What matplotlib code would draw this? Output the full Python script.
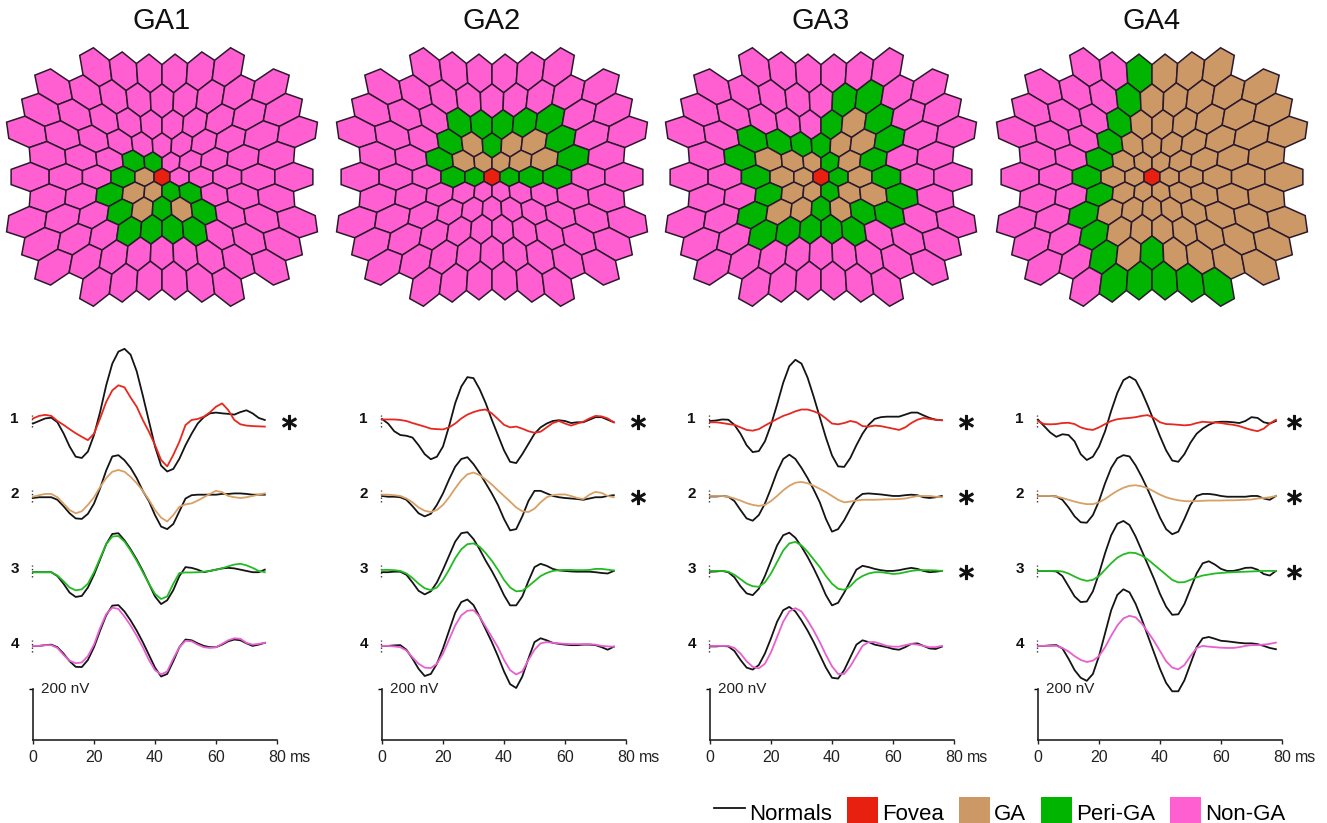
import numpy as np
import matplotlib
matplotlib.use("Agg")
import matplotlib.pyplot as plt
from matplotlib.patches import Polygon, Patch
from matplotlib.lines import Line2D

plt.rcParams['font.family'] = ['Liberation Sans', 'DejaVu Sans']

# ---------------- data ----------------
TITLES = ['GA1', 'GA2', 'GA3', 'GA4']
LEGEND_LABELS = ['Normals', 'Fovea', 'GA', 'Peri-GA', 'Non-GA']
X_TICKS = [0, 20, 40, 60, 80]
X_TICK_LABELS = ['0', '20', '40', '60', '80']
ROW_LABELS = ['1', '2', '3', '4']
STAR_ROWS = [[0], [0, 1], [0, 1, 2], [0, 1, 2]]

# hexagon maps, rows top to bottom, left to right
# P = Non-GA, T = GA, G = Peri-GA, R = Fovea
GA1_MAP = ["PPPPPP", "PPPPPPPPP", "PPPPPPPPPP", "PPPPPPPPPPP",
           "PPPGGPPPPP", "PPPGTRPPPPP", "PPGTTGGPPP", "PPPGTGTGPPP",
           "PPPGGGGPPP", "PPPPPPPPP", "PPPPPP"]
GA2_MAP = ["PPPPPP", "PPPPPPPPP", "PPPGGGGGPP", "PPPGTGTTGPP",
           "PPGTTTTTGP", "PPPGGRGGGPP", "PPPPPPPPPP", "PPPPPPPPPPP",
           "PPPPPPPPPP", "PPPPPPPPP", "PPPPPP"]
GA3_MAP = ["PPPPPP", "PPPPPGGPP", "PPPPPGTGPP", "PPGGGGTTGPP",
           "PGTTTGTGPP", "PPGTTRGTGPP", "PPGTTGTTGP", "PPGTTGTGGPP",
           "PPGGGGGPPP", "PPPPPPPPP", "PPPPPP"]
GA4_MAP = ["PPGTTT", "PPPGTTTTT", "PPPGTTTTTT", "PPPGTTTTTTT",
           "PPGTTTTTTT", "PPGTTRTTTTT", "PPGTTTTTTT", "PPGTTTTTTTT",
           "PPGTTTTTTT", "PPGTGTTTT", "PGGGGG"]
MAPS = [GA1_MAP, GA2_MAP, GA3_MAP, GA4_MAP]

# trace sample times (ms)
TIME_SHORT = np.arange(0, 77, 2)   # panels 1-3
TIME_LONG = np.arange(0, 79, 2)    # panel 4

# responses in nV; rows 1..4 ; normals and patient
P1_NORMAL = [
    [-10, 0, 10, 13, -5, -48, -100, -140, -145, -120, -55, 35, 140, 225, 272, 283, 260, 195, 100, 0,
     -100, -175, -198, -188, -148, -95, -50, -10, 15, 30, 33, 30, 28, 25, 35, 42, 30, 12, 4],
    [-8, -5, -5, -5, -15, -40, -68, -88, -90, -70, -30, 30, 100, 155, 160, 140, 110, 70, 20, -20,
     -75, -120, -130, -110, -60, -10, 3, 5, 5, 5, 5, 8, 8, 10, 10, 8, 5, 5, 5],
    [-5, -5, -5, -5, -20, -50, -85, -102, -98, -65, -15, 45, 105, 145, 148, 120, 85, 45, 0, -50,
     -100, -130, -115, -75, -20, 15, 12, 5, -5, 0, 5, 10, 12, 10, 5, 0, -5, -5, 5],
    [0, 0, 3, 5, -5, -30, -60, -82, -83, -55, -5, 60, 120, 158, 160, 135, 100, 60, 15, -35,
     -85, -120, -110, -60, -5, 25, 22, 10, 0, -5, -5, 5, 18, 25, 22, 10, 0, 5, 12],
]
P1_PATIENT = [
    [10, 20, 24, 20, 0, -15, -32, -48, -62, -75, -50, 10, 75, 120, 140, 132, 92, 56, 4, -42,
     -94, -153, -178, -133, -81, -16, 4, 8, 17, 34, 56, 69, 43, 4, -13, -18, -20, -21, -22],
    [-3, 3, 8, 8, -5, -30, -55, -68, -60, -35, -5, 35, 70, 95, 102, 95, 75, 50, 20, -15,
     -55, -85, -100, -75, -42, -33, -29, -18, -5, 8, 20, 15, 0, -5, -8, -5, 0, 5, 10],
    [-5, -5, -5, -5, -18, -40, -65, -76, -72, -50, -5, 50, 105, 135, 137, 115, 80, 40, -5, -50,
     -90, -110, -100, -50, -8, -6, -6, -5, -3, 0, 5, 10, 18, 25, 28, 22, 12, 0, -5],
    [0, 0, 3, 3, -8, -35, -58, -68, -65, -40, 5, 70, 125, 150, 145, 115, 80, 40, -5, -55,
     -95, -112, -100, -50, -5, 20, 18, 5, -5, -8, -5, 8, 22, 30, 28, 12, 5, 8, 12],
]
P2_NORMAL = [
    [8, -10, -40, -55, -58, -65, -95, -130, -150, -140, -100, -20, 70, 135, 172, 168, 125, 70, 5, -55,
     -115, -160, -165, -130, -90, -50, -25, -10, 0, 3, 0, -8, -5, -5, 5, 15, 15, 5, -5],
    [0, -3, -3, -5, -15, -40, -68, -80, -70, -35, 10, 65, 115, 145, 152, 125, 90, 50, 10, -35,
     -90, -135, -130, -80, -20, 20, 20, 10, 0, -5, -8, -10, -12, -15, -10, -5, -5, 0, 3],
    [-5, -5, -3, -3, -15, -45, -78, -92, -80, -45, 5, 60, 115, 148, 152, 125, 85, 40, 0, -45,
     -95, -135, -135, -100, -40, 15, 28, 20, 8, 2, 0, -2, -3, -3, -3, -5, -8, -10, 0],
    [0, 0, 2, 3, -15, -50, -90, -118, -110, -70, -10, 60, 130, 172, 182, 160, 115, 65, 15, -40,
     -100, -150, -165, -120, -50, 15, 30, 22, 12, 8, 5, 3, 3, 5, 5, 3, -5, -15, -3],
]
P2_PATIENT = [
    [6, 6, 6, 4, 0, -8, -15, -22, -30, -32, -33, -25, -10, 10, 25, 35, 42, 45, 30, 8,
     -15, -25, -22, -30, -40, -46, -42, -25, -8, 0, -10, -18, -10, -3, 10, 20, 18, 10, -5],
    [5, 5, 3, 0, -10, -25, -45, -58, -63, -55, -35, -5, 30, 62, 85, 92, 82, 65, 45, 22,
     0, -22, -45, -60, -63, -50, -25, -5, 3, 6, 6, 0, -8, -12, 5, 16, 12, 0, -5],
    [4, 4, 3, 0, -10, -28, -50, -68, -75, -65, -35, 5, 50, 85, 105, 108, 95, 70, 40, 5,
     -35, -65, -80, -78, -60, -40, -20, -8, 0, 3, 4, 4, 3, 3, 4, 8, 8, 5, 2],
    [0, 0, -2, -5, -18, -45, -70, -85, -87, -70, -30, 25, 80, 120, 138, 140, 115, 75, 35, -5,
     -55, -95, -112, -100, -55, -15, 10, 15, 12, 10, 8, 7, 7, 7, 7, 5, 0, -2, -3],
]
P3_NORMAL = [
    [0, 2, 6, 5, -15, -50, -95, -122, -118, -80, -15, 65, 150, 215, 240, 225, 170, 95, 15, -65,
     -135, -178, -180, -145, -95, -50, -15, 8, 15, 17, 17, 17, 25, 33, 33, 22, 12, 5, 3],
    [-2, -2, 0, -3, -20, -55, -88, -97, -75, -30, 30, 95, 145, 162, 145, 110, 70, 25, -25, -90,
     -140, -130, -95, -50, -10, 8, 10, 8, 6, 3, 0, 0, 3, 5, 3, -5, -8, -5, 0],
    [-3, -2, 0, -5, -25, -60, -88, -95, -70, -20, 40, 100, 140, 150, 130, 95, 55, 10, -40, -95,
     -135, -125, -85, -40, 5, 20, 15, 8, 3, 0, 0, 3, 8, 12, 8, 0, -5, -3, 0],
    [-2, -2, 0, -2, -20, -55, -85, -93, -75, -30, 30, 95, 140, 153, 135, 100, 60, 15, -35, -85,
     -125, -128, -95, -45, 5, 22, 15, 5, 0, -5, -12, -15, -5, 8, 10, 0, -10, -12, -3],
]
P3_PATIENT = [
    [-5, -5, -8, -12, -15, -25, -35, -38, -32, -18, -5, 8, 20, 28, 38, 45, 45, 38, 28, 10,
     -10, -13, -8, 0, -5, -20, -22, -18, -20, -25, -30, -35, -25, -8, 5, 12, 8, 5, 3],
    [0, 0, 0, -3, -10, -18, -28, -35, -39, -35, -20, 0, 22, 40, 52, 55, 50, 40, 28, 15,
     0, -15, -25, -22, -18, -15, -15, -15, -14, -13, -13, -12, -10, -5, 0, 0, 0, -3, -5],
    [0, 0, 0, -3, -15, -32, -50, -60, -62, -45, -10, 35, 80, 108, 114, 100, 75, 45, 15, -20,
     -50, -70, -74, -60, -35, -20, -10, -5, -5, -8, -12, -10, -5, 0, 3, 3, 3, 2, 0],
    [0, 0, 0, 0, -8, -30, -60, -82, -88, -70, -25, 35, 95, 135, 148, 135, 100, 60, 15, -35,
     -80, -110, -110, -80, -40, 0, 15, 15, 8, 0, -3, -3, 3, 8, 5, 0, -5, -5, 0],
]
P4_NORMAL = [
    [5, -20, -45, -62, -52, -55, -80, -130, -153, -140, -100, -40, 40, 110, 160, 174, 160, 115, 60, 0,
     -60, -115, -155, -160, -130, -85, -50, -30, -15, -5, -3, -3, -5, -8, 0, 15, 12, -5, -10, 0],
    [0, 0, 0, -2, -15, -45, -80, -103, -105, -75, -20, 50, 110, 148, 160, 155, 120, 75, 25, -30,
     -85, -130, -150, -140, -90, -35, 0, 8, 8, 5, 0, -3, -3, -3, -3, 0, 0, -10, -15, 0],
    [0, 0, 0, -2, -20, -60, -100, -122, -120, -80, -10, 70, 140, 185, 196, 180, 135, 80, 25, -30,
     -90, -140, -172, -170, -130, -70, -10, 30, 38, 25, 8, 0, 0, 5, 12, 13, 5, -12, -18, 0],
    [0, 0, 2, 3, -10, -50, -95, -125, -137, -110, -40, 50, 140, 200, 222, 210, 165, 105, 40, -25,
     -90, -145, -178, -178, -135, -70, -5, 30, 35, 28, 20, 18, 15, 12, 10, 10, 7, 0, -8, -13],
]
P4_PATIENT = [
    [0, -12, -13, -12, -8, -7, -12, -25, -32, -35, -25, -12, 0, 7, 10, 12, 15, 20, 23, 12,
     -5, -12, -13, -15, -17, -15, -8, -3, -5, -6, -8, -12, -15, -20, -28, -35, -40, -30, -10, 5],
    [0, 0, 0, -2, -8, -15, -22, -28, -32, -32, -25, -12, 5, 20, 32, 40, 42, 38, 30, 18,
     5, -5, -12, -17, -20, -21, -20, -19, -18, -18, -18, -17, -17, -16, -15, -14, -10, -8, -5, 0],
    [0, 0, 0, 0, -2, -10, -22, -33, -39, -35, -20, 5, 30, 52, 65, 72, 70, 60, 45, 25,
     5, -15, -35, -45, -44, -35, -25, -18, -14, -10, -8, -6, -5, -4, -3, -2, -1, 0, 0, 0],
    [0, 0, 0, 0, -8, -22, -40, -55, -63, -58, -40, -5, 40, 80, 108, 118, 112, 88, 55, 20,
     -20, -60, -85, -92, -75, -40, -8, 0, -3, -5, -7, -8, -8, -5, 0, 3, 3, 5, 8, 13],
]
NORMALS = [P1_NORMAL, P2_NORMAL, P3_NORMAL, P4_NORMAL]
PATIENTS = [P1_PATIENT, P2_PATIENT, P3_PATIENT, P4_PATIENT]
TIMES = [TIME_SHORT, TIME_SHORT, TIME_SHORT, TIME_LONG]

# ---------------- style / layout ----------------
HEX_COLORS = {'P': '#FF5FD0', 'T': '#CC9966', 'G': '#00B400', 'R': '#E82010'}
ROW_TRACE_COLORS = ['#E8281E', '#D9A066', '#22BB22', '#E860D0']
NORMAL_COLOR = '#141414'
EDGE = '#2b1a2e'

W, H = 1327, 823
fig = plt.figure(figsize=(W / 100, H / 100), dpi=100)

MAP_CX = [162, 492, 821, 1152]
MAP_CY = 177
PX_PER_UNIT = 8.35
WARP = 0.094
Y_SQUEEZE = 0.96
HX, HY = 19.0, 16.0

TRACE_LEFT = [33, 382, 710, 1038]
TRACE_W = 244
AX_BOTTOM_PX = 740
AX_H_PX = 400
NV_PER_PX = 200 / 51.0
ROW_OFFSETS = [1251, 957, 663, 369]


def draw_map(ax, rows):
    ang = np.deg2rad(90 + 60 * np.arange(6))
    nrows = len(rows)
    for k, row in enumerate(rows):
        r = k - (nrows - 1) / 2
        n = len(row)
        for i, code in enumerate(row):
            o = i - (n - 1) / 2
            cx, cy = np.sqrt(3) * o, -1.5 * r
            vx = cx + np.cos(ang)
            vy = cy + np.sin(ang)
            f = 1 + WARP * np.hypot(vx, vy)
            ax.add_patch(Polygon(np.column_stack([vx * f, vy * f * Y_SQUEEZE]), closed=True,
                                 facecolor=HEX_COLORS[code], edgecolor=EDGE,
                                 linewidth=1.1, joinstyle='miter'))


for p in range(4):
    # title
    fig.text(MAP_CX[p] / W, 1 - 21 / H, TITLES[p], ha='center', va='center',
             fontsize=21, color='#111111')
    # hex map
    wpx, hpx = 2 * HX * PX_PER_UNIT, 2 * HY * PX_PER_UNIT
    axm = fig.add_axes([(MAP_CX[p] - wpx / 2) / W, (H - MAP_CY - hpx / 2) / H, wpx / W, hpx / H])
    draw_map(axm, MAPS[p])
    axm.set_xlim(-HX, HX)
    axm.set_ylim(-HY, HY)
    axm.axis('off')

    # traces
    ax = fig.add_axes([TRACE_LEFT[p] / W, (H - AX_BOTTOM_PX) / H, TRACE_W / W, AX_H_PX / H])
    ax.set_xlim(0, 80)
    ax.set_ylim(0, AX_H_PX * NV_PER_PX)
    ax.patch.set_alpha(0)
    for s in ['top', 'right']:
        ax.spines[s].set_visible(False)
    ax.spines['left'].set_bounds(0, 200)
    for s in ['left', 'bottom']:
        ax.spines[s].set_linewidth(1.2)
        ax.spines[s].set_color('#222222')
    ax.set_xticks(X_TICKS)
    ax.set_xticklabels(X_TICK_LABELS, fontsize=11.5, color='#222222')
    ax.set_yticks([200])
    ax.set_yticklabels([''])
    ax.tick_params(axis='x', length=3, width=1, direction='out', pad=4, colors='#222222')
    ax.tick_params(axis='y', length=3, width=1, direction='out')
    ax.annotate('ms', xy=(80, 0), xycoords='data', xytext=(9, -7),
                textcoords='offset points', ha='left', va='top', fontsize=11.5,
                color='#222222', annotation_clip=False)
    ax.text(2.5, 200, '200 nV', ha='left', va='center', fontsize=11, color='#222222')

    t = TIMES[p]
    for j in range(4):
        off = ROW_OFFSETS[j]
        ax.plot(t, off + np.asarray(NORMALS[p][j]), color=NORMAL_COLOR, lw=1.3,
                clip_on=False, zorder=3, solid_joinstyle='round')
        ax.plot(t, off + np.asarray(PATIENTS[p][j]), color=ROW_TRACE_COLORS[j], lw=1.3,
                clip_on=False, zorder=4, solid_joinstyle='round')
        ax.plot([-0.4, -0.4], [off - 22, off + 22], color='#333333', lw=1.0,
                ls=(0, (1, 1.6)), clip_on=False)
        ax.text(-6, off + 8, ROW_LABELS[j], ha='center', va='center', fontsize=11,
                fontweight='bold', color='#111111', clip_on=False)
        if j in STAR_ROWS[p]:
            ax.plot([84], [off - 4], marker='$*$', markersize=10, color='#111111',
                    clip_on=False, linestyle='none')

# legend
handles = [Line2D([], [], color=NORMAL_COLOR, lw=1.3)] + \
          [Patch(facecolor=HEX_COLORS[c], edgecolor='none') for c in ['R', 'T', 'G', 'P']]
fig.legend(handles, LEGEND_LABELS, ncol=5, loc='lower right',
           bbox_to_anchor=(1285 / W, -0.006), frameon=False, fontsize=16,
           handlelength=1.4, handleheight=1.77, handletextpad=0.15,
           columnspacing=0.7, borderpad=0, borderaxespad=0)

fig.savefig('out.png', dpi=100)
